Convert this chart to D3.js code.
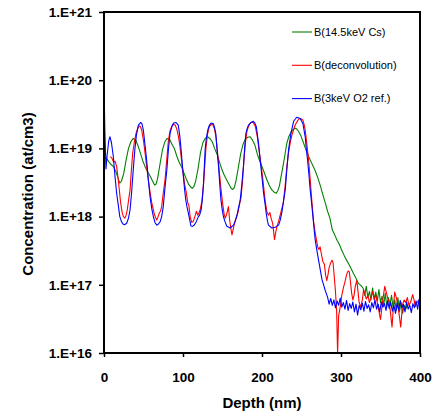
<!DOCTYPE html>
<html>
<head>
<meta charset="utf-8">
<script src="https://cdn.jsdelivr.net/npm/d3@7"></script>
<style>
	body { margin: 0; background: #fff; }
	svg { display: block; font-family: Arial, "Liberation Sans", sans-serif; }
</style>
</head>
<body>
<div id="chart-area"></div>
<script>

// Axis ticks
let depthTicks = [0, 100, 200, 300, 400];
let concTicks = [1e16, 1e17, 1e18, 1e19, 1e20, 1e21];

// Legend labels
let seriesNames = ["B(14.5keV Cs)", "B(deconvolution)", "B(3keV O2 ref.)"];
let seriesColors = ["#008000", "#ff0000", "#0000ff"];

// B(14.5keV Cs) -- [depth nm, concentration at/cm3]
let csData = [
	[0, 7.6e18], [3, 7.2e18], [6, 6.4e18], [9, 5.8e18], [12, 5.4e18], [15, 4.6e18], [18, 3.6e18],
	[20, 3.1e18], [22, 3.3e18], [25, 4.3e18], [28, 6.8e18], [31, 1.0e19], [34, 1.25e19], [37, 1.4e19],
	[40, 1.33e19], [43, 1.1e19], [46, 8.6e18], [49, 6.6e18], [52, 5.4e18], [55, 4.6e18], [58, 4.0e18],
	[61, 3.4e18], [64, 2.9e18], [66, 3.0e18], [68, 3.7e18], [71, 6.0e18], [74, 9.5e18], [77, 1.25e19],
	[80, 1.4e19], [83, 1.36e19], [86, 1.15e19], [89, 1.0e19], [92, 7.8e18], [95, 6.3e18], [98, 5.4e18],
	[101, 4.4e18], [104, 3.6e18], [107, 3.0e18], [110, 2.7e18], [112, 2.6e18], [114, 2.8e18], [116, 3.3e18],
	[119, 5.0e18], [122, 8.5e18], [125, 1.2e19], [128, 1.4e19], [131, 1.48e19], [134, 1.4e19], [137, 1.25e19],
	[140, 1.0e19], [143, 8.3e18], [146, 6.4e18], [149, 5.0e18], [152, 4.1e18], [155, 3.5e18], [158, 3.0e18],
	[161, 2.6e18], [163, 2.5e18], [165, 2.65e18], [167, 3.3e18], [170, 5.2e18], [173, 8.3e18], [176, 1.15e19],
	[179, 1.38e19], [182, 1.46e19], [185, 1.48e19], [188, 1.32e19], [191, 1.12e19], [194, 8.3e18], [197, 6.6e18],
	[200, 5.4e18], [203, 4.4e18], [206, 3.5e18], [209, 2.9e18], [212, 2.5e18], [215, 2.3e18], [218, 2.2e18],
	[220, 2.4e18], [222, 2.8e18], [224, 3.8e18], [226.5, 5.4e18], [229, 8.0e18], [231.5, 1.2e19], [234, 1.5e19],
	[237, 1.76e19], [240, 1.92e19], [243, 1.97e19], [246, 1.8e19], [249, 1.55e19], [252, 1.25e19], [255, 1.0e19],
	[259, 7.6e18], [262, 6.4e18], [265, 5.4e18], [268, 4.5e18], [271, 3.6e18], [274, 2.8e18], [277, 2.1e18],
	[280, 1.6e18], [283, 1.2e18], [286, 9.5e17], [289, 6.4e17], [292, 5.4e17], [295, 4.5e17], [298, 3.9e17],
	[301, 3.2e17], [304, 2.7e17], [307, 2.3e17], [310, 2.0e17], [313, 1.7e17], [316, 1.45e17], [319, 1.25e17],
	[322, 1.05e17], [325, 9.8e16], [328, 8.9e16], [330, 7.0e16], [332, 9.5e16], [334, 6.5e16], [336, 8.0e16],
	[338, 6.0e16], [340, 9.0e16], [342, 6.2e16], [344, 7.8e16], [346, 5.8e16], [348, 8.5e16], [350, 5.5e16],
	[352, 6.8e16], [354, 5.0e16], [356, 7.5e16], [358, 4.8e16], [360, 6.5e16], [362, 5.2e16], [364, 7.0e16],
	[366, 4.5e16], [368, 6.0e16], [370, 4.2e16], [372, 6.5e16], [374, 4.0e16], [376, 5.5e16], [378, 3.8e16],
	[380, 5.0e16], [382, 4.4e16], [384, 5.2e16]
];

// B(deconvolution)
let deconvData = [
	[8, 7.6e18], [10, 7.2e18], [12, 6.3e18], [14, 6.5e18], [16, 5.4e18], [18, 3.5e18], [19.5, 2.4e18],
	[21, 1.6e18], [23, 1.15e18], [24.5, 1.0e18], [26.5, 9.5e17], [28, 1.05e18], [29.5, 1.26e18], [31, 1.7e18],
	[33, 2.46e18], [34.5, 4.5e18], [36.3, 8.5e18], [38.5, 1.25e19], [40.5, 1.66e19], [42.5, 1.95e19], [44.7, 2.14e19],
	[46, 2.1e19], [47.7, 1.86e19], [50, 1.3e19], [52, 8.5e18], [54, 5.4e18], [56, 3.5e18], [58, 2.4e18],
	[60.4, 1.6e18], [63.4, 1.13e18], [65, 9.8e17], [66.8, 8.9e17], [68.5, 1.0e18], [70, 1.13e18], [71.5, 1.2e18],
	[73, 1.4e18], [75, 2.2e18], [77.3, 3.5e18], [79.5, 7.0e18], [81.5, 1.3e19], [83.5, 1.8e19], [85.8, 2.1e19],
	[88, 2.25e19], [90, 2.2e19], [92, 1.95e19], [94.2, 1.5e19], [96, 1.1e19], [98, 7.0e18], [100, 4.5e18],
	[102, 3.0e18], [104, 2.3e18], [106, 1.6e18], [107.5, 1.45e18], [109, 1.0e18], [111, 8.2e17], [113, 8.5e17],
	[115, 1.0e18], [117, 1.2e18], [118.5, 1.05e18], [120.5, 1.15e18], [122, 1.3e18], [124, 1.7e18], [126, 3.0e18],
	[127.5, 5.5e18], [129, 1.0e19], [131, 1.6e19], [133, 2.05e19], [135.5, 2.25e19], [138, 2.2e19], [140, 1.9e19],
	[142, 1.4e19], [144, 8.0e18], [146, 4.5e18], [148, 2.6e18], [150, 1.6e18], [152, 1.1e18], [153.5, 9.5e17],
	[155, 1.05e18], [157.5, 1.4e18], [159, 9.0e17], [160.5, 6.8e17], [162, 5.4e17], [163.5, 6.5e17], [165, 7.9e17],
	[167, 9.5e17], [169.4, 1.13e18], [171.5, 1.5e18], [173.6, 1.95e18], [175.5, 3.5e18], [177, 6.5e18], [179, 1.2e19],
	[181, 1.8e19], [183.5, 2.2e19], [186, 2.4e19], [189, 2.4e19], [191.5, 2.1e19], [194, 1.5e19], [196, 1.0e19],
	[198, 6.8e18], [200, 4.5e18], [202, 2.8e18], [204, 1.7e18], [206, 1.2e18], [208, 1.05e18], [210, 1.15e18],
	[211.5, 9.5e17], [213.6, 7.9e17], [215.8, 4.6e17], [217.5, 6.0e17], [219, 7.2e17], [221, 8.5e17], [223, 1.05e18],
	[225, 1.3e18], [227, 1.6e18], [229, 2.6e18], [231.5, 5.4e18], [233.5, 8.5e18], [235.7, 1.2e19], [238, 1.6e19],
	[242, 2.2e19], [245, 2.55e19], [247.5, 2.75e19], [250, 2.7e19], [251.8, 2.6e19], [253.5, 2.2e19], [254.7, 1.86e19],
	[257, 1.1e19], [259, 6.7e18], [261, 3.5e18], [263, 1.75e18], [265, 9.0e17], [267.4, 5.7e17], [269.5, 4.2e17],
	[270.5, 3.6e17], [272, 3.3e17], [273.5, 3.6e17], [275, 2.9e17], [277, 2.2e17], [279, 2.0e17], [280.5, 1.4e17],
	[282, 1.15e17], [283.5, 1.4e17], [285, 1.8e17], [287, 2.1e17], [288.6, 2.3e17], [290, 2.1e17], [291.5, 1.3e17],
	[293, 8.0e16], [294.5, 4.0e16], [295.7, 1.0e16], [297, 3.5e16], [299, 4.7e16], [301, 7.0e16], [303, 9.0e16],
	[305, 1.1e17], [307, 1.4e17], [309, 1.6e17], [310.5, 1.55e17], [312, 1.1e17], [313.5, 7.5e16], [315, 6.0e16],
	[316.5, 7.0e16], [318, 9.5e16], [320, 1.15e17], [321.5, 8.0e16], [323, 5.5e16], [325, 4.7e16], [327, 6.0e16],
	[328.6, 8.5e16], [330, 7.5e16], [332, 6.2e16], [334, 7.0e16], [336, 5.5e16], [338, 6.5e16], [340, 8.0e16],
	[342, 6.0e16], [344, 7.2e16], [346, 5.4e16], [347.7, 4.3e16], [350, 3.1e16], [352.8, 5.9e16], [355.4, 9.5e16],
	[357, 8.0e16], [359, 6.5e16], [361, 5.5e16], [362.5, 4.0e16], [364.6, 2.4e16], [366.5, 5.0e16], [368, 7.8e16],
	[370, 6.5e16], [372, 5.0e16], [374, 3.4e16], [375.6, 2.4e16], [377, 3.8e16], [378, 5.2e16], [380, 6.0e16],
	[382, 5.5e16], [384, 6.5e16], [386, 5.0e16], [388, 5.5e16], [390.7, 7.2e16], [392.5, 6.0e16], [394, 4.8e16],
	[396, 5.4e16], [398, 5.9e16], [400, 5.0e16]
];

// B(3keV O2 ref.)
let o2Data = [
	[0, 1.0e20], [1, 2.0e19], [2.5, 5.0e18], [4, 8.0e18], [6, 1.3e19], [7.6, 1.48e19], [9.5, 1.2e19],
	[11.8, 7.6e18], [14, 3.8e18], [16, 2.2e18], [18, 1.5e18], [20, 1.0e18], [22, 8.5e17], [24, 7.8e17],
	[26, 7.6e17], [28.7, 8.0e17], [31, 9.5e17], [33, 1.26e18], [35, 2.3e18], [37, 4.8e18], [39, 9.5e18],
	[41, 1.55e19], [43.5, 2.2e19], [46.5, 2.4e19], [48, 2.3e19], [49.8, 1.86e19], [52, 1.1e19], [54, 6.7e18],
	[56, 3.6e18], [58.3, 1.95e18], [60.5, 1.3e18], [62.5, 1.0e18], [64.5, 8.2e17], [66.8, 7.5e17], [69, 7.8e17],
	[71, 8.4e17], [73, 1.0e18], [75, 1.4e18], [77, 2.5e18], [79.5, 4.8e18], [81.5, 9.5e18], [83.6, 1.66e19],
	[86, 2.1e19], [88, 2.35e19], [91, 2.4e19], [94, 2.2e19], [96, 1.5e19], [97.6, 9.5e18], [99, 6.0e18],
	[100.5, 3.85e18], [102, 2.5e18], [103.5, 1.75e18], [105, 1.4e18], [107, 1.1e18], [110, 7.3e17], [112, 7.2e17],
	[114.5, 7.6e17], [117, 8.5e17], [119.5, 1.0e18], [121, 1.05e18], [123, 1.26e18], [124.5, 1.8e18], [126, 3.1e18],
	[128, 9.5e18], [129.5, 1.4e19], [131.4, 1.86e19], [133.5, 2.2e19], [135.6, 2.35e19], [138.5, 2.3e19], [140, 2.0e19],
	[141.5, 1.66e19], [143, 1.0e19], [145, 5.4e18], [146.5, 3.0e18], [148, 1.75e18], [149.5, 1.3e18], [151.2, 1.0e18],
	[153, 8.5e17], [155.5, 7.2e17], [159.7, 6.8e17], [164, 7.5e17], [166, 8.5e17], [168, 1.0e18], [170, 1.3e18],
	[172.4, 1.75e18], [174.5, 3.0e18], [176.5, 5.4e18], [178, 1.0e19], [179.6, 1.66e19], [181.5, 2.0e19], [183, 2.2e19],
	[186, 2.4e19], [189, 2.5e19], [191, 2.35e19], [192.7, 2.1e19], [195.6, 1.2e19], [197, 8.0e18], [198.6, 5.4e18],
	[200.5, 3.3e18], [202, 2.2e18], [204, 1.5e18], [205.3, 1.13e18], [207, 8.5e17], [208.2, 7.5e17], [212.5, 6.8e17],
	[216.7, 7.0e17], [221, 7.5e17], [223, 8.8e17], [225, 1.13e18], [227, 1.6e18], [229.4, 2.46e18], [231.5, 5.0e18],
	[233.6, 9.5e18], [236.6, 1.66e19], [240, 2.5e19], [244, 2.86e19], [248.4, 2.75e19], [251.8, 2.3e19], [254.7, 1.48e19],
	[256, 1.0e19], [257.7, 6.7e18], [259.5, 4.0e18], [261, 2.46e18], [263, 1.5e18], [264.5, 1.0e18], [266, 6.5e17],
	[267.4, 4.5e17], [269.5, 3.2e17], [271.6, 2.3e17], [274, 1.6e17], [276, 1.18e17], [278, 1.0e17], [280, 8.3e16],
	[283, 6.6e16], [285, 5.2e16], [287, 6.3e16], [289, 5.0e16], [291, 6.0e16], [293, 4.6e16], [295, 5.8e16],
	[297, 5.0e16], [299, 6.4e16], [301, 4.7e16], [303, 5.5e16], [305, 4.4e16], [307, 5.9e16], [309, 4.2e16],
	[311, 5.3e16], [313, 4.5e16], [315, 5.6e16], [317, 4.0e16], [319, 5.2e16], [321, 3.6e16], [323, 5.0e16],
	[325, 4.3e16], [327, 5.4e16], [329, 4.1e16], [331, 5.7e16], [333, 4.5e16], [335, 5.1e16], [337, 4.0e16],
	[339, 5.5e16], [341, 4.6e16], [343, 6.0e16], [345, 4.4e16], [347, 5.2e16], [349, 4.0e16], [351, 5.6e16],
	[353, 4.7e16], [355, 5.3e16], [357, 4.2e16], [359, 5.8e16], [361, 4.5e16], [363, 5.5e16], [365, 4.1e16],
	[367, 5.0e16], [369, 3.8e16], [371, 5.4e16], [373, 4.3e16], [375, 5.9e16], [377, 4.6e16], [379, 5.2e16],
	[381, 4.0e16], [383, 5.6e16], [385, 4.4e16], [387, 5.0e16], [389, 3.9e16], [391, 5.3e16], [393, 4.6e16],
	[395, 5.8e16], [397, 4.4e16], [399, 6.2e16], [400, 5.5e16]
];


class ProfileVis {

	constructor(_parentElement, _series) {
		this.parentElement = _parentElement;
		this.series = _series;

		this.initVis();
	}

	initVis() {
		let vis = this;

		vis.margin = { top: 12, right: 22, bottom: 65, left: 104 };
		vis.width = 442 - vis.margin.left - vis.margin.right;
		vis.height = 418 - vis.margin.top - vis.margin.bottom;

		// SVG drawing area
		vis.svg = d3.select("#" + vis.parentElement).append("svg")
			.attr("width", 442)
			.attr("height", 418)
			.append("g")
			.attr("transform", "translate(" + vis.margin.left + "," + vis.margin.top + ")");

		vis.svg.append("defs")
			.append("clipPath")
			.attr("id", "clip")
			.append("rect")
			.attr("y", -1)
			.attr("width", vis.width)
			.attr("height", vis.height + 2);

		// Scales and axes
		vis.x = d3.scaleLinear()
			.domain([0, 400])
			.range([0, vis.width]);

		vis.y = d3.scaleLog()
			.domain([1e16, 1e21])
			.range([vis.height, 0]);

		vis.xAxis = d3.axisBottom(vis.x)
			.tickValues(depthTicks)
			.tickSize(4)
			.tickPadding(15);

		vis.yAxis = d3.axisLeft(vis.y)
			.tickValues(concTicks)
			.tickSize(5)
			.tickPadding(7)
			.tickFormat(d => "1.E+" + Math.round(Math.log10(d)));

		vis.line = d3.line()
			.x(d => vis.x(d[0]))
			.y(d => vis.y(d[1]));

		vis.wrangleData();
	}

	wrangleData() {
		let vis = this;
		vis.updateVis();
	}

	updateVis() {
		let vis = this;

		// Lines
		vis.svg.append("g")
			.attr("clip-path", "url(#clip)")
			.selectAll(".profile")
			.data(vis.series)
			.enter()
			.append("path")
			.attr("class", "profile")
			.attr("d", d => vis.line(d.values))
			.attr("fill", "none")
			.attr("stroke", d => d.color)
			.attr("stroke-width", 1.1)
			.attr("stroke-linejoin", "round");

		// Plot frame
		vis.svg.append("rect")
			.attr("width", vis.width)
			.attr("height", vis.height)
			.attr("fill", "none")
			.attr("stroke", "#000")
			.attr("stroke-width", 2);

		let xg = vis.svg.append("g")
			.attr("transform", "translate(0," + vis.height + ")")
			.call(vis.xAxis);
		let yg = vis.svg.append("g")
			.call(vis.yAxis);

		[xg, yg].forEach(g => {
			g.select(".domain").remove();
			g.selectAll(".tick line").attr("stroke", "#000").attr("stroke-width", 1.5);
			g.selectAll("text")
				.attr("fill", "#000")
				.style("font-size", "13.5px")
				.style("font-weight", "bold");
		});

		// Axis titles
		vis.svg.append("text")
			.attr("x", vis.width / 2)
			.attr("y", 396)
			.attr("text-anchor", "middle")
			.style("font-size", "15px")
			.style("font-weight", "bold")
			.text("Depth (nm)");

		vis.svg.append("text")
			.attr("transform", "translate(" + (33 - vis.margin.left) + "," + (194 - vis.margin.top) + ") rotate(-90)")
			.attr("text-anchor", "middle")
			.style("font-size", "15px")
			.style("font-weight", "bold")
			.text("Concentration (at/cm3)");

		// Legend
		let legend = vis.svg.selectAll(".legend")
			.data(vis.series)
			.enter()
			.append("g")
			.attr("class", "legend")
			.attr("transform", (d, i) => "translate(" + (292 - vis.margin.left) + "," + (32 + i * 33.3 - vis.margin.top) + ")");

		legend.append("line")
			.attr("x1", 0)
			.attr("x2", 20)
			.attr("stroke", d => d.color)
			.attr("stroke-width", 1.1);

		legend.append("text")
			.attr("x", 22)
			.attr("dy", "0.35em")
			.style("font-size", "11px")
			.text(d => d.name);
	}
}

let series = [csData, deconvData, o2Data].map((values, i) => ({
	name: seriesNames[i],
	color: seriesColors[i],
	values: values
}));

new ProfileVis("chart-area", series);

</script>
</body>
</html>
